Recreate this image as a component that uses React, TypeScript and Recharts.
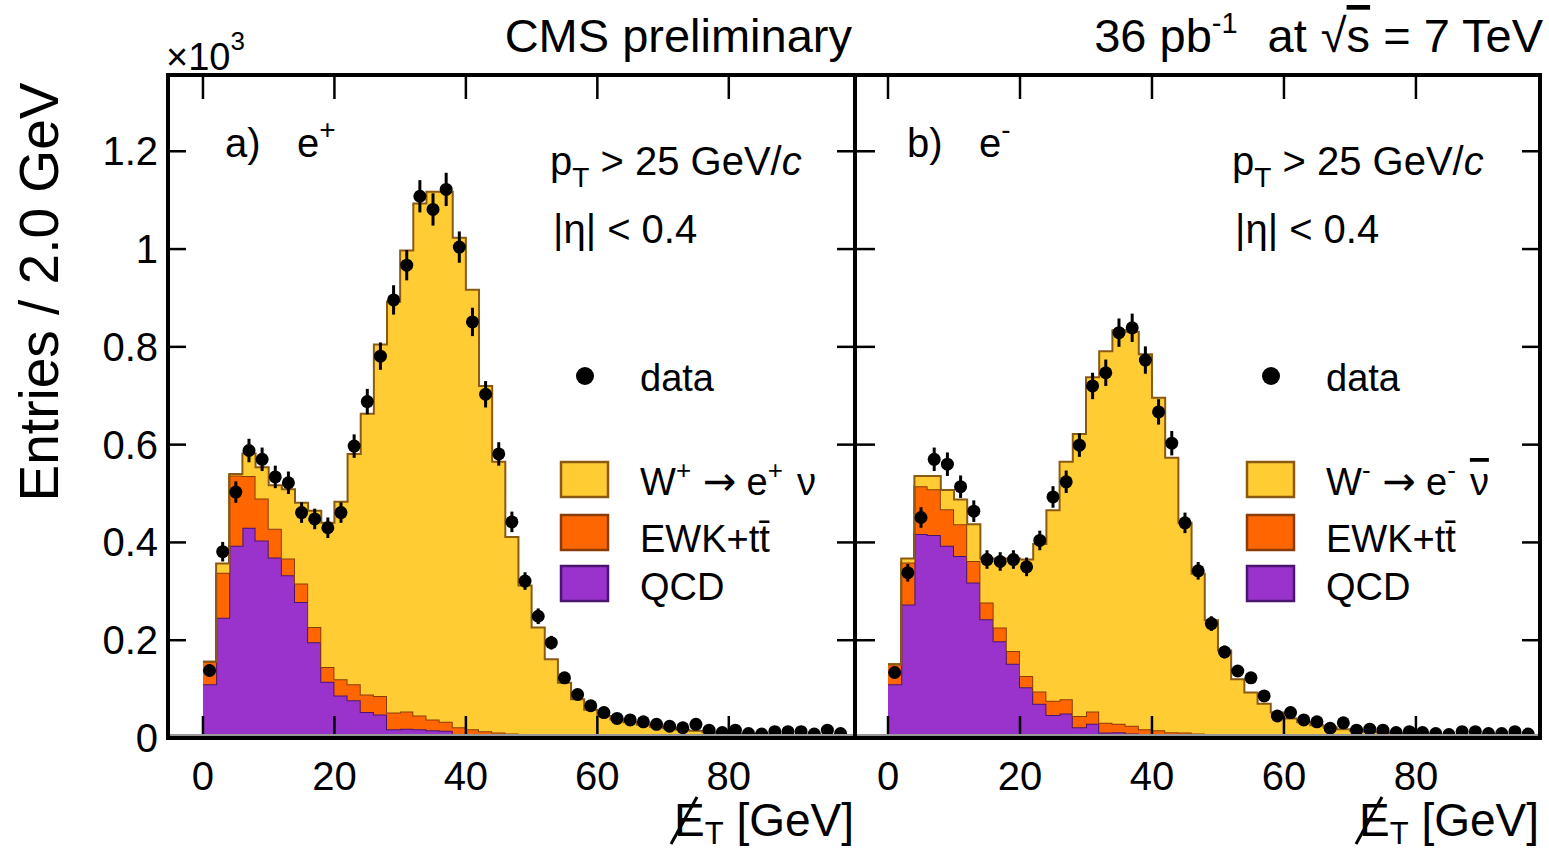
import React from 'react';
import { ComposedChart, Area, Scatter, ErrorBar, XAxis, YAxis } from 'recharts';

// bin low edges in GeV (2 GeV bins)
const binLow = [0, 2, 4, 6, 8, 10, 12, 14, 16, 18, 20, 22, 24, 26, 28, 30, 32, 34, 36, 38, 40, 42, 44, 46, 48,
  50, 52, 54, 56, 58, 60, 62, 64, 66, 68, 70, 72, 74, 76, 78, 80, 82, 84, 86, 88, 90, 92, 94, 96];
const BIN_WIDTH = 2;

// a) e+   (values in 10^3 entries)
const qcdPlus = [0.110, 0.246, 0.393, 0.430, 0.404, 0.369, 0.333, 0.278, 0.196, 0.115,
  0.087, 0.077, 0.053, 0.048, 0.018, 0.019, 0.018, 0.016, 0.015, 0.006,
  0.006, 0.005, 0.005, 0.004, 0.004, 0.004, 0.003, 0.003, 0.003, 0.003,
  0.003, 0.002, 0.002, 0.002, 0.002, 0.002, 0.002, 0.002, 0.002, 0.002,
  0.002, 0.002, 0.001, 0.001, 0.001, 0.001, 0.001, 0.001, 0.001];
const ewkPlus = [0.046, 0.092, 0.144, 0.106, 0.086, 0.059, 0.034, 0.038, 0.031, 0.030,
  0.033, 0.033, 0.036, 0.038, 0.034, 0.035, 0.028, 0.022, 0.018, 0.016,
  0.012, 0.009, 0.006, 0.005, 0.004, 0.003, 0.003, 0.003, 0.002, 0.002,
  0.002, 0.002, 0.002, 0.002, 0.002, 0.002, 0.001, 0.001, 0.001, 0.001,
  0.001, 0.001, 0.001, 0.001, 0.001, 0.001, 0.001, 0.001, 0.001];
const wPlus = [0.000, 0.019, 0.003, 0.046, 0.064, 0.089, 0.142, 0.165, 0.238, 0.295,
  0.363, 0.471, 0.574, 0.719, 0.840, 0.943, 1.047, 1.079, 1.084, 1.001,
  0.899, 0.706, 0.554, 0.402, 0.304, 0.219, 0.155, 0.107, 0.074, 0.053,
  0.040, 0.034, 0.028, 0.023, 0.019, 0.016, 0.014, 0.012, 0.009, 0.007,
  0.006, 0.005, 0.005, 0.005, 0.004, 0.004, 0.003, 0.003, 0.003];
const dataPlus = [0.138, 0.381, 0.503, 0.588, 0.570, 0.534, 0.522, 0.461, 0.448, 0.430,
  0.461, 0.597, 0.688, 0.781, 0.896, 0.967, 1.108, 1.081, 1.122, 1.004,
  0.851, 0.703, 0.581, 0.442, 0.321, 0.249, 0.195, 0.123, 0.089, 0.066,
  0.052, 0.040, 0.037, 0.033, 0.028, 0.024, 0.021, 0.028, 0.016, 0.011,
  0.016, 0.009, 0.008, 0.013, 0.013, 0.013, 0.008, 0.016, 0.009];
const errPlus = [0.012, 0.020, 0.022, 0.024, 0.024, 0.023, 0.023, 0.021, 0.021, 0.021,
  0.021, 0.024, 0.026, 0.028, 0.030, 0.031, 0.033, 0.033, 0.034, 0.032,
  0.029, 0.027, 0.024, 0.021, 0.018, 0.016, 0.014, 0.011, 0.009, 0.008,
  0.007, 0.006, 0.006, 0.006, 0.005, 0.005, 0.005, 0.005, 0.004, 0.003,
  0.004, 0.003, 0.003, 0.004, 0.004, 0.004, 0.003, 0.004, 0.003];

// b) e-
const qcdMinus = [0.110, 0.273, 0.417, 0.415, 0.393, 0.372, 0.318, 0.243, 0.198, 0.152,
  0.104, 0.070, 0.047, 0.050, 0.022, 0.029, 0.011, 0.012, 0.009, 0.008,
  0.007, 0.005, 0.005, 0.004, 0.004, 0.004, 0.003, 0.003, 0.003, 0.003,
  0.003, 0.002, 0.002, 0.002, 0.002, 0.002, 0.002, 0.002, 0.001, 0.001,
  0.001, 0.001, 0.001, 0.001, 0.001, 0.001, 0.001, 0.001, 0.001];
const ewkMinus = [0.041, 0.086, 0.098, 0.094, 0.075, 0.065, 0.044, 0.034, 0.028, 0.026,
  0.023, 0.025, 0.029, 0.029, 0.023, 0.025, 0.020, 0.017, 0.016, 0.010,
  0.009, 0.007, 0.006, 0.005, 0.004, 0.003, 0.003, 0.003, 0.002, 0.002,
  0.002, 0.002, 0.002, 0.002, 0.002, 0.001, 0.001, 0.001, 0.001, 0.001,
  0.001, 0.001, 0.001, 0.001, 0.001, 0.001, 0.001, 0.001, 0.001];
const wMinus = [0.000, 0.008, 0.021, 0.027, 0.039, 0.051, 0.075, 0.090, 0.141, 0.189,
  0.238, 0.302, 0.390, 0.486, 0.577, 0.684, 0.760, 0.805, 0.806, 0.767,
  0.680, 0.561, 0.429, 0.327, 0.233, 0.172, 0.114, 0.087, 0.065, 0.047,
  0.035, 0.028, 0.022, 0.018, 0.014, 0.012, 0.010, 0.008, 0.007, 0.006,
  0.005, 0.004, 0.004, 0.003, 0.003, 0.003, 0.002, 0.002, 0.002];
const dataMinus = [0.134, 0.338, 0.451, 0.570, 0.560, 0.514, 0.464, 0.365, 0.361, 0.365,
  0.350, 0.404, 0.493, 0.524, 0.599, 0.720, 0.747, 0.829, 0.839, 0.773,
  0.667, 0.603, 0.440, 0.342, 0.234, 0.176, 0.137, 0.123, 0.086, 0.045,
  0.052, 0.037, 0.033, 0.020, 0.031, 0.016, 0.018, 0.016, 0.011, 0.013,
  0.011, 0.009, 0.007, 0.013, 0.013, 0.009, 0.009, 0.013, 0.008];
const errMinus = [0.012, 0.018, 0.021, 0.024, 0.024, 0.023, 0.022, 0.019, 0.019, 0.019,
  0.019, 0.020, 0.022, 0.023, 0.024, 0.027, 0.027, 0.029, 0.029, 0.028,
  0.026, 0.025, 0.021, 0.018, 0.015, 0.013, 0.012, 0.011, 0.009, 0.007,
  0.007, 0.006, 0.006, 0.004, 0.006, 0.004, 0.004, 0.004, 0.003, 0.004,
  0.003, 0.003, 0.003, 0.004, 0.004, 0.003, 0.003, 0.004, 0.003];

const xTicks = [0, 20, 40, 60, 80];
const yTicks = [0, 0.2, 0.4, 0.6, 0.8, 1, 1.2];

const FONT = '"Liberation Sans", Arial, Helvetica, sans-serif';
const W_FILL = '#ffcc33';
const W_LINE = '#8a5a12';
const EWK_FILL = '#ff6600';
const EWK_LINE = '#8a3c08';
const QCD_FILL = '#9933cc';
const QCD_LINE = '#4a1470';

const PLOT_TOP = 75;
const PLOT_BOTTOM = 738;
const CHART_H = 849;

function histRows(qcd: number[], ewk: number[], w: number[]) {
  const rows = binLow.map((x, i) => ({ x, qcd: qcd[i], ewk: ewk[i], w: w[i] }));
  const last = rows[rows.length - 1];
  rows.push({ ...last, x: last.x + BIN_WIDTH });
  return rows;
}

function pointRows(data: number[], err: number[]) {
  return binLow.map((x, i) => ({ x: x + BIN_WIDTH / 2, y: data[i], err: err[i] }));
}

interface PanelProps {
  hist: any[];
  points: any[];
  xDomain: [number, number];
  width: number;
  left: number;
  plotLeft: number;
  plotRight: number;
  yAxisWidth: number;
  showYLabels: boolean;
}

function Panel({ hist, points, xDomain, width, left, plotLeft, plotRight, yAxisWidth, showYLabels }: PanelProps) {
  const XTick = (p: any) => (
    <g>
      <line x1={p.x} x2={p.x} y1={PLOT_BOTTOM} y2={PLOT_BOTTOM - 22} stroke="#000" strokeWidth={2.5} />
      <line x1={p.x} x2={p.x} y1={PLOT_TOP} y2={PLOT_TOP + 24} stroke="#000" strokeWidth={2.5} />
      <text x={p.x} y={790} textAnchor="middle" fontSize={40} fontFamily={FONT} fill="#000">
        {p.payload.value}
      </text>
    </g>
  );
  const YTick = (p: any) => (
    <g>
      <line x1={plotLeft} x2={plotLeft + 18} y1={p.y} y2={p.y} stroke="#000" strokeWidth={2.5} />
      <line x1={plotRight - 18} x2={plotRight} y1={p.y} y2={p.y} stroke="#000" strokeWidth={2.5} />
      {showYLabels && (
        <text x={plotLeft - 10} y={p.y + 14} textAnchor="end" fontSize={40} fontFamily={FONT} fill="#000">
          {p.payload.value}
        </text>
      )}
    </g>
  );

  return (
    <div style={{ position: 'absolute', left, top: 0 }}>
      <ComposedChart
        width={width}
        height={CHART_H}
        data={hist}
        margin={{ top: PLOT_TOP, right: width - plotRight, bottom: CHART_H - PLOT_BOTTOM - 40, left: plotLeft - yAxisWidth }}
      >
        <XAxis
          dataKey="x"
          type="number"
          domain={xDomain}
          allowDataOverflow
          ticks={xTicks}
          interval={0}
          height={40}
          axisLine={false}
          tickLine={false}
          tick={<XTick />}
        />
        <YAxis
          type="number"
          domain={[0, 1.356]}
          allowDataOverflow
          ticks={yTicks}
          interval={0}
          width={yAxisWidth}
          axisLine={false}
          tickLine={false}
          tick={<YTick />}
        />
        <Area type="stepAfter" dataKey="qcd" stackId="mc" fill={QCD_FILL} fillOpacity={1}
          stroke={QCD_LINE} strokeWidth={2} dot={false} activeDot={false} isAnimationActive={false} />
        <Area type="stepAfter" dataKey="ewk" stackId="mc" fill={EWK_FILL} fillOpacity={1}
          stroke={EWK_LINE} strokeWidth={2} dot={false} activeDot={false} isAnimationActive={false} />
        <Area type="stepAfter" dataKey="w" stackId="mc" fill={W_FILL} fillOpacity={1}
          stroke={W_LINE} strokeWidth={2} dot={false} activeDot={false} isAnimationActive={false} />
        <Scatter
          data={points}
          dataKey="y"
          fill="#000"
          isAnimationActive={false}
          shape={(p: any) => <circle cx={p.cx} cy={p.cy} r={6.5} fill="#000" />}
        >
          <ErrorBar dataKey="err" direction="y" width={0} stroke="#000" strokeWidth={3} />
        </Scatter>
      </ComposedChart>
    </div>
  );
}

function LegendBlock({ dx, sign }: { dx: number; sign: '+' | '-' }) {
  return (
    <g fontFamily={FONT} fill="#000">
      <circle cx={585 + dx} cy={376} r={9} fill="#000" />
      <text x={640 + dx} y={391} fontSize={38}>data</text>
      <rect x={561 + dx} y={462} width={47} height={35} fill={W_FILL} stroke={W_LINE} strokeWidth={2.5} />
      <text x={640 + dx} y={495} fontSize={38}>
        W<tspan dy={-16} fontSize={26}>{sign}</tspan>
        <tspan dy={16} dx={12} fontFamily='"DejaVu Sans"' fontSize={40}>→</tspan>
        <tspan dx={10}>e</tspan>
        <tspan dy={-16} fontSize={26}>{sign}</tspan>
        <tspan dy={16} dx={14} style={sign === '-' ? { textDecoration: 'overline' } : undefined}>ν</tspan>
      </text>
      <rect x={561 + dx} y={515} width={47} height={35} fill={EWK_FILL} stroke={EWK_LINE} strokeWidth={2.5} />
      <text x={640 + dx} y={552} fontSize={38}>EWK+tt{'\u0304'}</text>
      <rect x={561 + dx} y={566} width={47} height={35} fill={QCD_FILL} stroke={QCD_LINE} strokeWidth={2.5} />
      <text x={640 + dx} y={600} fontSize={38}>QCD</text>
    </g>
  );
}

function PanelText({ dx, tag, sign }: { dx: number; tag: string; sign: string }) {
  return (
    <g fontFamily={FONT} fill="#000">
      <text x={225 + dx} y={157} fontSize={40}>{tag}</text>
      <text x={297 + dx} y={157} fontSize={40}>
        e<tspan dy={-18} fontSize={28}>{sign}</tspan>
      </text>
      <text x={550 + dx} y={175} fontSize={40}>
        p<tspan dy={12} fontSize={28}>T</tspan>
        <tspan dy={-12}> &gt; 25 GeV/</tspan>
        <tspan fontStyle="italic">c</tspan>
      </text>
      <text x={553 + dx} y={243} fontSize={40}>|η| &lt; 0.4</text>
    </g>
  );
}

function XTitle({ x }: { x: number }) {
  return (
    <g fontFamily={FONT} fill="#000">
      <text x={x} y={836} fontSize={46}>
        E<tspan dy={8} fontSize={31}>T</tspan>
        <tspan dy={-8}> [GeV]</tspan>
      </text>
      <line x1={x - 3} y1={844} x2={x + 23} y2={797} stroke="#000" strokeWidth={3} />
    </g>
  );
}

export default function App() {
  const histPlus = histRows(qcdPlus, ewkPlus, wPlus);
  const histMinus = histRows(qcdMinus, ewkMinus, wMinus);
  const ptsPlus = pointRows(dataPlus, errPlus);
  const ptsMinus = pointRows(dataMinus, errMinus);

  return (
    <div style={{ position: 'absolute', left: 0, top: 0, width: 1549, height: 849, background: '#fff', overflow: 'hidden' }}>
      <Panel hist={histPlus} points={ptsPlus} xDomain={[-5.32, 99.2]} width={857} left={0}
        plotLeft={168} plotRight={855} yAxisWidth={80} showYLabels />
      <Panel hist={histMinus} points={ptsMinus} xDomain={[-4.7, 98.8]} width={694} left={855}
        plotLeft={2} plotRight={685} yAxisWidth={1} showYLabels={false} />
      <svg width={1549} height={849} style={{ position: 'absolute', left: 0, top: 0, pointerEvents: 'none' }}>
        <line x1={170} x2={1538} y1={PLOT_BOTTOM - 3} y2={PLOT_BOTTOM - 3} stroke="#999" strokeWidth={2} />
        <rect x={168} y={PLOT_TOP} width={687} height={PLOT_BOTTOM - PLOT_TOP} fill="none" stroke="#000" strokeWidth={4} />
        <rect x={855} y={PLOT_TOP} width={685} height={PLOT_BOTTOM - PLOT_TOP} fill="none" stroke="#000" strokeWidth={4} />
        <g fontFamily={FONT} fill="#000">
          <text x={166} y={70} fontSize={38}>
            ×10<tspan dy={-20} fontSize={26}>3</tspan>
          </text>
          <text x={852} y={52} fontSize={47} textAnchor="end">CMS preliminary</text>
          <text x={1543} y={52} fontSize={47} textAnchor="end">
            36 pb<tspan dy={-19} fontSize={29}>-1</tspan>
            <tspan dy={19} dx={30}>at</tspan>
            <tspan dx={14}>√</tspan>
            <tspan style={{ textDecoration: 'overline' }}>s</tspan>
            <tspan> = 7 TeV</tspan>
          </text>
          <text transform="translate(58,292) rotate(-90)" textAnchor="middle" fontSize={55}>
            Entries / 2.0 GeV
          </text>
        </g>
        <PanelText dx={0} tag="a)" sign="+" />
        <PanelText dx={682} tag="b)" sign="-" />
        <LegendBlock dx={0} sign="+" />
        <LegendBlock dx={686} sign="-" />
        <XTitle x={674} />
        <XTitle x={1359} />
      </svg>
    </div>
  );
}
